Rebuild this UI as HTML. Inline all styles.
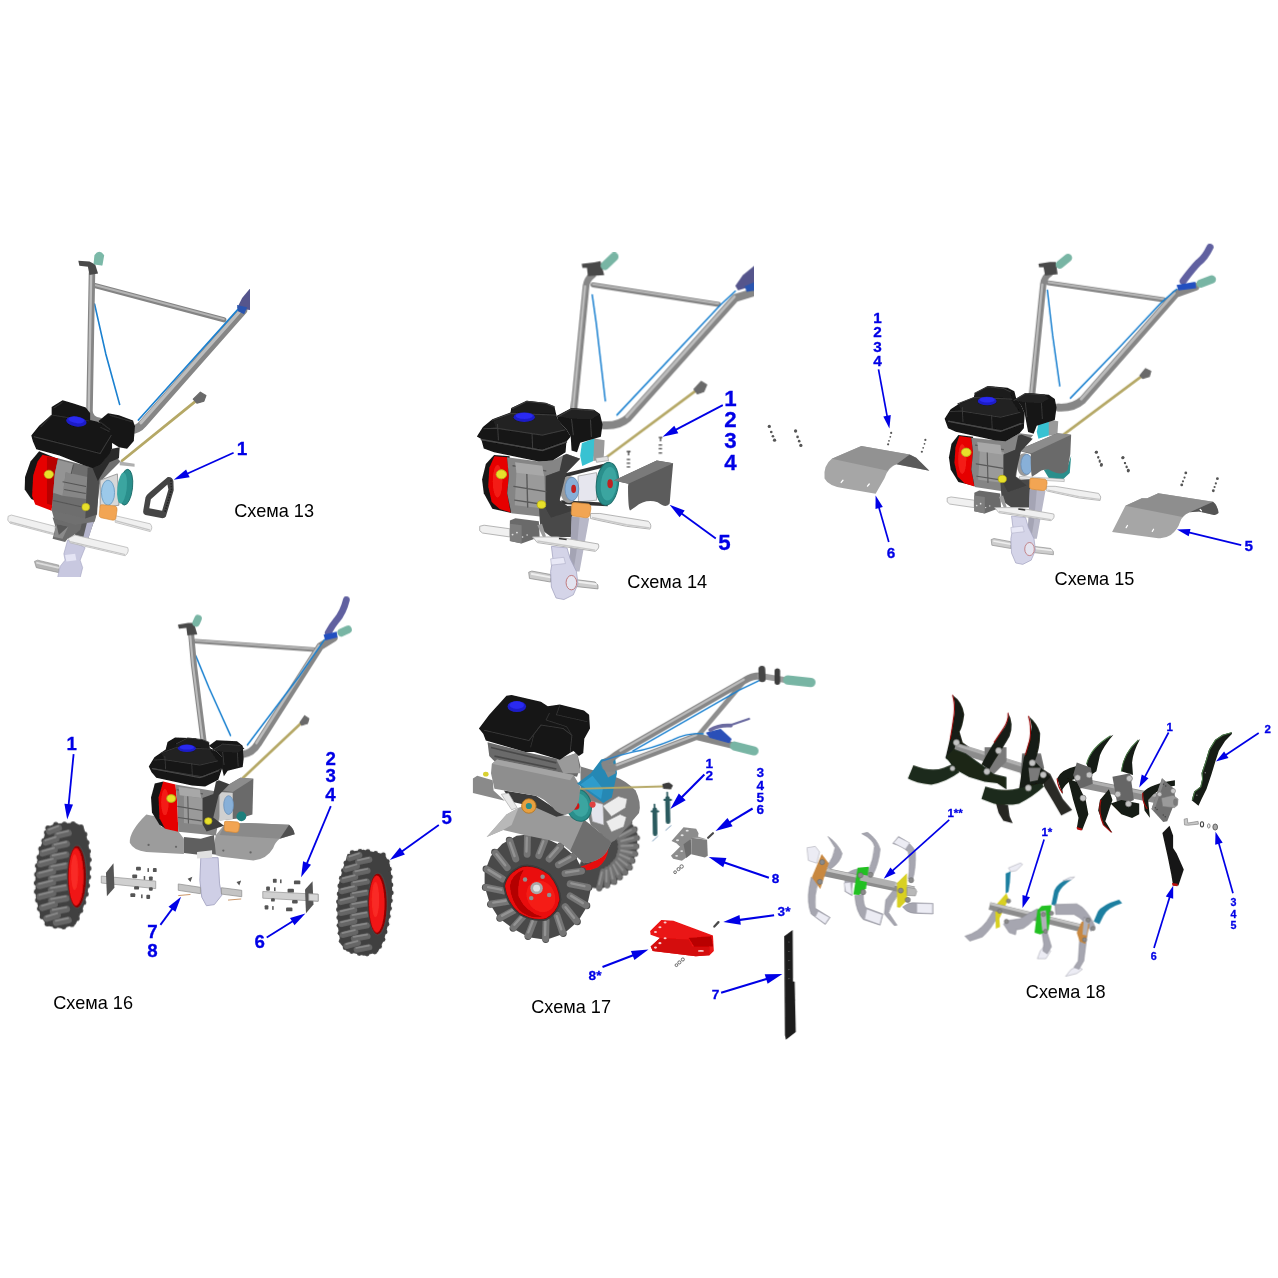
<!DOCTYPE html>
<html lang="ru"><head><meta charset="utf-8"><title>Схемы 13–18</title>
<style>
html,body{margin:0;padding:0;background:#fff;}
body{width:1278px;height:1278px;overflow:hidden;}
svg{display:block;}
.cap{font-family:"Liberation Sans",sans-serif;fill:#000;}
.num{font-family:"Liberation Sans",sans-serif;font-weight:bold;fill:#0404e6;stroke:#0404e6;stroke-width:0.3px;}
.ar{stroke:#0404e6;fill:none;}
.ah{fill:#0404e6;stroke:none;}
</style></head>
<body>
<svg width="1278" height="1278" viewBox="0 0 1278 1278">
<defs>
<filter id="b1" filterUnits="userSpaceOnUse" x="0" y="0" width="1278" height="1278"><feGaussianBlur stdDeviation="0.6"/></filter>
<filter id="b2" filterUnits="userSpaceOnUse" x="0" y="0" width="1278" height="1278"><feGaussianBlur stdDeviation="0.35"/></filter>
</defs>
<rect width="1278" height="1278" fill="#fff"/>
<g filter="url(#b1)">
<!-- ===== Схема 13 : handles (view 0,240,260,500) ===== -->
<g id="d13">
<svg x="0" y="0" width="250" height="577" viewBox="0 0 250 577" overflow="hidden">
<g transform="translate(0 240) scale(0.203443)" stroke-linecap="round" stroke-linejoin="round" fill="none">
  <path d="M465 315 L520 560 L588 808" stroke="#1a80d0" stroke-width="8"/>
  <path d="M470 225 L1100 392" stroke="#848484" stroke-width="26"/>
  <path d="M470 222 L1100 389" stroke="#b4b4b4" stroke-width="10"/>
  <path d="M452 165 L440 840 Q440 880 490 890" stroke="#868686" stroke-width="32"/>
  <path d="M448 165 L436 840" stroke="#bdbdbd" stroke-width="12"/>
  <path d="M1195 345 L700 905 Q680 930 640 935" stroke="#868686" stroke-width="42"/>
  <path d="M1188 340 L693 898" stroke="#bcbcbc" stroke-width="16"/>
  <path d="M1175 335 L680 885" stroke="#1a80d0" stroke-width="8"/>
  <path d="M600 1085 L965 790" stroke="#b5a866" stroke-width="14"/>
  <path d="M950 782 L985 748 L1012 765 L1002 792 L968 802 Z" fill="#6a6a6a" stroke="#6a6a6a" stroke-width="6"/>
  <path d="M1240 225 L1240 345 L1165 335 L1190 285 Z" fill="#55558c" stroke="none"/>
  <path d="M1165 320 L1215 330 L1200 365 L1170 350 Z" fill="#2a55b0" stroke="none"/>
  <path d="M385 102 L440 106 L468 120 L482 165 L440 172 L432 132 L390 126 Z" fill="#4a4a4a" stroke="none"/>
  <path d="M468 76 Q488 48 508 76 L500 122 L464 116 Z" fill="#7bb9a8" stroke="#7bb9a8" stroke-width="8"/>
</g>
</svg>
</g>

<!-- ===== Схема 13 : engine (view 0,380,200,580) ===== -->
<svg x="0" y="0" width="250" height="577" viewBox="0 0 250 577" overflow="hidden">
<g transform="translate(0 380) scale(0.156495)" stroke-linejoin="round">
  </g>
<g transform="translate(0 480) scale(0.125196)" stroke-linejoin="round">
  <!-- bars / bracket / gearbox (view 0,480,160,580) -->
  <path d="M920 285 L1200 350 Q1225 380 1200 412 L920 338 Z" fill="#f0f0f0" stroke="#b4b4b4" stroke-width="6"/>
  <path d="M920 325 L1200 400" stroke="#c4c4c4" stroke-width="10" fill="none"/>
  <path d="M65 290 L90 280 L440 370 L440 440 L80 345 L62 320 Z" fill="#f0f0f0" stroke="#b4b4b4" stroke-width="6"/>
  <path d="M80 335 L440 430" stroke="#c4c4c4" stroke-width="10" fill="none"/>
  <path d="M275 650 L300 640 L470 680 L470 740 L290 700 Z" fill="#b4b4b4" stroke="#8a8a8a" stroke-width="5"/>
  <path d="M290 660 L470 702" stroke="#dcdcdc" stroke-width="14" fill="none"/>
  <path d="M540 480 L640 520 L680 540 L640 640 L660 700 L640 780 L460 780 L480 690 L520 640 L510 590 Z" fill="#c8c8e0" stroke="#a4a4c0" stroke-width="5"/>
  <path d="M520 600 L600 590 L610 640 L530 650 Z" fill="#e4e4f4"/>
  <path d="M560 330 L740 280 L762 300 L720 420 L690 520 L640 520 L600 440 Z" fill="#5a5a5a"/>
  <path d="M700 320 L760 296 L722 420 L688 520 L650 520 Z" fill="#b4b4cc"/>
  <path d="M545 465 L600 440 L1020 540 Q1035 575 1000 605 L560 502 Z" fill="#f0f0f0" stroke="#b4b4b4" stroke-width="6"/>
  <path d="M560 492 L1000 595" stroke="#c4c4c4" stroke-width="10" fill="none"/>
  <path d="M420 300 L560 330 L660 320 L640 400 L590 440 L540 470 L520 496 L420 470 L445 380 Z" fill="#6c6c6c"/>
  <path d="M450 352 L545 372 L500 470 L430 455 Z" fill="#8a8a8a"/>
  <path d="M450 352 L545 372 L470 440 Z" fill="#585858"/>
</g>
<g transform="translate(0 380) scale(0.156495)" stroke-linejoin="round">
  <path d="M330 830 L540 880 L620 850 L605 905 L480 925 L345 885 Z" fill="#707070"/>
  <!-- recoil housing -->
  <path d="M250 455 L195 520 L160 620 L158 700 L200 760 L330 820 L360 500 Z" fill="#161616"/>
  <!-- red cover -->
  <path d="M272 478 L372 502 L350 600 L330 835 L225 795 L205 740 L212 610 L240 520 Z" fill="#e60000"/>
  <path d="M300 490 L372 502 L350 600 L335 800 L300 790 Z" fill="#b80000"/>
  <!-- block -->
  <path d="M370 500 L600 560 L720 470 L770 520 L640 650 L615 860 L540 885 L330 835 L350 600 Z" fill="#6e6e6e"/>
  <path d="M420 590 L560 620 L550 760 L400 740 Z" fill="#868686"/>
  <path d="M370 510 L470 535 L460 600 L420 590 L400 740 L340 720 L350 600 Z" fill="#949494"/>
  <path d="M560 560 L640 540 L620 860 L545 885 Z" fill="#505050"/>
  <path d="M590 560 L645 540 L716 440 L765 430 L760 500 L700 525 L625 645 Z" fill="#2c2c2c"/>
  <path d="M400 650 L550 680 M410 700 L548 725 M470 540 L455 600 M340 770 L540 815" stroke="#555" stroke-width="7" fill="none"/>
  <!-- pulleys -->
  <path d="M640 640 L750 600 L760 800 L640 820 Z" fill="#d8d8d8" stroke="#888" stroke-width="5"/>
  <ellipse cx="690" cy="720" rx="42" ry="80" fill="#9cc9ea" stroke="#6f9fc4" stroke-width="6"/>
  <ellipse cx="805" cy="685" rx="42" ry="115" fill="#2b8f8c" stroke="#1f6f6c" stroke-width="6" transform="rotate(6 805 685)"/>
  <ellipse cx="780" cy="690" rx="30" ry="100" fill="#3aa5a0" transform="rotate(6 780 690)"/>
  <path d="M765 520 L860 535 L860 555 L765 545 Z" fill="#b0b0b0"/>
  <!-- orange roller -->
  <path d="M640 805 Q640 795 655 797 L735 805 Q750 810 748 830 L740 885 Q735 900 715 895 L645 880 Q632 875 634 860 Z" fill="#f2a552" stroke="#d48a3a" stroke-width="4"/>
  <!-- yellow bolts -->
  <ellipse cx="312" cy="603" rx="30" ry="27" fill="#e8e02c" stroke="#b0a818" stroke-width="4"/>
  <ellipse cx="548" cy="812" rx="25" ry="24" fill="#e8e02c" stroke="#b0a818" stroke-width="4"/>
  <!-- air filter -->
  <path d="M630 262 L690 212 L760 225 L850 258 L862 295 L855 390 L812 440 L760 430 L712 400 Z" fill="#141414"/>
  <!-- tank -->
  <path d="M200 355 L250 292 L330 222 L330 172 L400 130 L470 150 L548 176 L576 212 L576 256 L622 266 L700 310 L716 348 L716 440 L700 472 L645 540 L592 562 L540 546 L380 482 L232 442 L210 392 Z" fill="#121212"/>
  <path d="M215 362 L640 470 L712 352" fill="none" stroke="#3a3a3a" stroke-width="7"/>
  <path d="M335 225 L570 262 M260 300 L330 226 M340 180 L400 142 M705 318 L640 268 M700 225 L845 268 M640 300 L700 330" fill="none" stroke="#2e2e2e" stroke-width="8"/>
  <ellipse cx="488" cy="265" rx="66" ry="32" fill="#1e1ec8" transform="rotate(8 488 265)"/>
  <ellipse cx="488" cy="255" rx="52" ry="20" fill="#2a2af0" transform="rotate(8 488 255)"/>
  <!-- belt (part 1) -->
  <path fill-rule="evenodd" d="M1072 620 Q1100 616 1108 645 L1110 705 L1060 872 Q1050 886 1030 882 L930 862 Q910 856 916 830 L930 750 Q936 733 953 720 Z M1070 668 L1076 700 L1036 836 L954 820 L964 762 Z" fill="#444"/>
  <path d="M1092 640 L1096 700 L1052 850" stroke="#222" stroke-width="10" fill="none" stroke-dasharray="10 8"/>
</g>
</svg>

<!-- ===== Схема 14 : handles (view 540,230,780,470) ===== -->
<svg x="440" y="0" width="314" height="640" viewBox="440 0 314 640" overflow="hidden">
<g transform="translate(540 230) scale(0.187793)" stroke-linecap="round" stroke-linejoin="round" fill="none">
  <path d="M278 345 L300 500 L348 910" stroke="#1a80d0" stroke-width="8"/>
  <path d="M282 292 L950 396" stroke="#848484" stroke-width="26"/>
  <path d="M282 289 L950 392" stroke="#b8b8b8" stroke-width="10"/>
  <path d="M280 240 Q250 260 245 300 L180 960" stroke="#868686" stroke-width="36"/>
  <path d="M240 300 L176 950" stroke="#bcbcbc" stroke-width="13"/>
  <path d="M1160 325 L1040 362 L470 1000 Q420 1045 340 1040" stroke="#868686" stroke-width="42"/>
  <path d="M1035 355 L462 995" stroke="#bcbcbc" stroke-width="15"/>
  <path d="M1040 325 L960 400 L410 985" stroke="#1a80d0" stroke-width="8"/>
  <path d="M360 1205 L835 852" stroke="#b5a866" stroke-width="14"/>
  <path d="M820 848 L858 806 L888 824 L872 860 L838 872 Z" fill="#6a6a6a" stroke="#6a6a6a" stroke-width="6"/>
  <path d="M1160 175 L1160 290 L1055 322 L1040 298 L1080 240 Z" fill="#55558c" stroke="none"/>
  <path d="M1090 300 L1160 270 L1160 320 L1100 330 Z" fill="#2a55b0" stroke="none"/>
  <path d="M222 180 L290 172 L322 165 L342 240 L255 246 L250 202 L226 202 Z" fill="#4a4a4a" stroke="none"/>
  <path d="M345 190 L395 142" stroke="#78b5a4" stroke-width="46"/>
  <!-- tiny bolts -->
  <g stroke="#444" stroke-width="7" stroke-linecap="butt">
    <path d="M632 1105 L652 1105 M642 1105 L642 1125 M632 1145 L650 1145 M632 1165 L650 1165 M632 1187 L650 1187"/>
    <path d="M462 1180 L482 1180 M472 1180 L472 1200 M462 1222 L480 1222 M462 1242 L480 1242 M462 1262 L480 1262"/>
  </g>
</g>
</svg>

<!-- ===== Схема 14 : engine (view 470,390,690,610) ===== -->
<g transform="translate(470 390) scale(0.172144)" stroke-linejoin="round">
  <!-- recoil -->
  <path d="M140 378 L92 430 L70 520 L80 600 L130 690 L240 715 L230 385 Z" fill="#161616"/>
  <!-- red -->
  <path d="M142 385 L216 390 L226 500 L216 600 L236 712 L172 692 L126 650 L106 560 L112 452 Z" fill="#e60000"/>
  <!-- block -->
  <path d="M215 390 L400 415 L480 410 L560 370 L640 400 L560 480 L520 640 L600 700 L470 742 L240 716 L216 600 L226 500 Z" fill="#858585"/>
  <path d="M270 470 L430 490 L440 690 L260 670 Z" fill="#9a9a9a"/>
  <path d="M440 500 L520 470 L520 640 L470 742 L440 690 Z" fill="#5a5a5a"/>
  <!-- cyan bracket -->
  <path d="M650 310 L722 280 L732 300 L716 412 L652 442 L640 380 Z" fill="#38c2d2"/>
  <path d="M722 282 L782 292 L776 402 L716 412 Z" fill="#9a9a9a"/>
  <!-- pulleys -->
  <path d="M628 500 L735 480 L735 640 L630 650 Z" fill="#e6e6ee" stroke="#aaa" stroke-width="5"/>
  <path d="M530 490 L790 425 L800 445 L540 510 Z" fill="#333"/>
  <path d="M530 640 L800 655 L800 675 L530 662 Z" fill="#333"/>
  <ellipse cx="575" cy="578" rx="52" ry="78" fill="#9a9a9a"/>
  <ellipse cx="592" cy="575" rx="40" ry="68" fill="#88b0d8" stroke="#6a8fb8" stroke-width="5"/>
  <ellipse cx="602" cy="575" rx="14" ry="24" fill="#c02020"/>
  <ellipse cx="798" cy="545" rx="64" ry="125" fill="#2b8f8c" stroke="#1f6f6c" stroke-width="6" transform="rotate(6 798 545)"/>
  <ellipse cx="806" cy="545" rx="46" ry="98" fill="#3aa5a0" transform="rotate(6 806 545)"/>
  <ellipse cx="814" cy="545" rx="16" ry="26" fill="#c02020"/>
  <path d="M730 395 L800 385 L805 410 L735 420 Z" fill="#e0e0e0" stroke="#999" stroke-width="4"/>
  <!-- orange -->
  <!-- yellow bolts -->
  <ellipse cx="182" cy="490" rx="30" ry="26" fill="#e8e02c" stroke="#b0a818" stroke-width="4"/>
  <ellipse cx="415" cy="666" rx="25" ry="22" fill="#e8e02c" stroke="#b0a818" stroke-width="4"/>
  <!-- air filter -->
  <path d="M505 150 L590 105 L720 115 L755 140 L770 200 L760 272 L640 306 L622 362 L590 352 L585 270 L560 230 L510 176 Z" fill="#141414"/>
  <!-- tank -->
  <path d="M40 270 L75 215 L130 170 L235 130 L240 105 L330 62 L440 75 L490 95 L500 140 L510 175 L560 230 L585 270 L560 300 L555 362 L480 410 L400 416 L140 362 L80 340 L65 285 Z" fill="#121212"/>
  <path d="M70 290 L420 350 L560 300" fill="none" stroke="#333" stroke-width="6"/>
  <ellipse cx="315" cy="158" rx="62" ry="28" fill="#1e1ec8"/>
  <ellipse cx="315" cy="150" rx="50" ry="18" fill="#2a2af0"/>
  <!-- shield part 5 -->
  <path d="M836 525 L1085 410 L1180 425 L1168 560 L1160 660 Q1140 690 1090 652 Q1020 630 960 680 L930 700 Q918 690 918 560 L920 545 Z" fill="#5c5c5c"/>
  <path d="M836 525 L1085 410 L1180 425 L920 545 Z" fill="#7a7a7a"/>
</g>

<!-- ===== Схема 15 : handles (view 1000,230,1240,470) ===== -->
<g transform="translate(1000 230) scale(0.187793)" stroke-linecap="round" stroke-linejoin="round" fill="none">
  <path d="M252 320 L280 560 L318 830" stroke="#1a80d0" stroke-width="8"/>
  <path d="M258 281 L870 371" stroke="#848484" stroke-width="26"/>
  <path d="M258 278 L870 367" stroke="#b8b8b8" stroke-width="10"/>
  <path d="M265 232 Q235 250 230 290 L170 880" stroke="#868686" stroke-width="34"/>
  <path d="M225 290 L166 870" stroke="#bcbcbc" stroke-width="12"/>
  <path d="M1040 302 L935 340 L440 905 Q390 950 310 945" stroke="#868686" stroke-width="42"/>
  <path d="M928 335 L432 900" stroke="#bcbcbc" stroke-width="15"/>
  <path d="M940 315 L860 385 L640 620 L375 895" stroke="#1a80d0" stroke-width="8"/>
  <path d="M340 1088 L755 778" stroke="#b5a866" stroke-width="14"/>
  <path d="M745 775 L775 738 L803 752 L795 780 L760 790 Z" fill="#6a6a6a" stroke="#6a6a6a" stroke-width="6"/>
  <path d="M1118 92 Q1090 150 1058 172 Q1030 200 975 272" stroke="#6060a0" stroke-width="38"/>
  <path d="M940 292 L1040 275 L1045 310 L950 322 Z" fill="#2450c0" stroke="none"/>
  <path d="M1068 285 L1128 263" stroke="#78b5a4" stroke-width="44"/>
  <path d="M205 180 L265 170 L297 170 L307 236 L240 242 L232 198 L208 198 Z" fill="#4a4a4a" stroke="none"/>
  <path d="M318 184 L362 148" stroke="#78b5a4" stroke-width="44"/>
</g>

<!-- ===== Схема 15 : engine (view 930,380,1150,600) ===== -->
<g transform="translate(930 380) scale(0.172144)" stroke-linejoin="round">
  <path d="M165 320 L125 370 L110 450 L120 520 L165 592 L260 616 L250 330 Z" fill="#161616"/>
  <path d="M170 325 L240 335 L250 420 L240 520 L258 618 L200 600 L160 560 L142 480 L148 390 Z" fill="#e60000"/>
  <path d="M240 335 L380 350 L440 355 L520 310 L600 320 L520 410 L500 560 L560 600 L460 652 L260 622 L240 520 L250 420 Z" fill="#858585"/>
  <path d="M290 400 L430 420 L440 600 L280 580 Z" fill="#9a9a9a"/>
  <path d="M440 430 L510 400 L500 560 L460 652 L440 600 Z" fill="#5a5a5a"/>
  <path d="M630 255 L690 230 L702 250 L690 322 L630 342 L620 300 Z" fill="#38c2d2"/>
  <path d="M690 230 L745 240 L740 320 L690 322 Z" fill="#9a9a9a"/>
  <ellipse cx="548" cy="492" rx="44" ry="66" fill="#9a9a9a"/>
  <ellipse cx="562" cy="490" rx="34" ry="58" fill="#88b0d8" stroke="#6a8fb8" stroke-width="5"/>
  <path d="M660 520 L800 500 L820 440 L812 540 L770 580 L690 570 Z" fill="#2b8f8c"/>
  <!-- mounted cover -->
  <path d="M505 410 L740 310 L820 318 L815 430 L800 520 Q770 565 690 520 Q650 515 620 545 L592 562 Q585 540 585 430 Z" fill="#6a6a6a"/>
  <path d="M505 410 L740 310 L820 318 L590 425 Z" fill="#8c8c8c"/>
  <path d="M520 560 L780 575 L780 590 L520 575 Z" fill="#e8e8e8" stroke="#999" stroke-width="3"/>
  <ellipse cx="210" cy="420" rx="28" ry="24" fill="#e8e02c" stroke="#b0a818" stroke-width="4"/>
  <ellipse cx="420" cy="575" rx="24" ry="21" fill="#e8e02c" stroke="#b0a818" stroke-width="4"/>
  <path d="M500 110 L575 75 L690 85 L725 110 L735 160 L725 232 L620 266 L602 312 L570 302 L550 195 L530 150 Z" fill="#141414"/>
  <path d="M85 225 L120 170 L180 130 L255 100 L265 75 L340 35 L450 45 L490 65 L500 105 L530 150 L550 195 L545 280 L520 310 L440 356 L380 351 L150 300 L105 280 Z" fill="#121212"/>
  <path d="M110 240 L420 295 L545 250" fill="none" stroke="#333" stroke-width="6"/>
  <ellipse cx="332" cy="122" rx="55" ry="25" fill="#1e1ec8"/>
  <ellipse cx="332" cy="115" rx="44" ry="16" fill="#2a2af0"/>
  <!-- small bolts -->
  <g fill="#555">
    <circle cx="966" cy="420" r="9"/><circle cx="978" cy="448" r="6"/><circle cx="986" cy="468" r="6"/><circle cx="996" cy="490" r="8"/>
    <circle cx="1120" cy="452" r="9"/><circle cx="1132" cy="482" r="6"/><circle cx="1142" cy="502" r="6"/><circle cx="1152" cy="524" r="8"/>
  </g>
</g>
<!-- shield 6 (view 800,290,960,570) -->
<g transform="translate(800 290) scale(0.219178)">
  <path d="M145 770 L280 712 L500 750 L530 765 L590 825 L440 795 Q400 810 385 860 L345 930 L200 905 Q130 895 112 860 Q105 800 145 770 Z" fill="#a6a6a6"/>
  <path d="M145 770 L280 712 L500 750 L440 795 Q415 800 400 825 Z" fill="#929292"/>
  <path d="M440 795 L500 750 L530 765 L590 825 Z" fill="#5a5a5a"/>
  <g stroke="#fff" stroke-width="6" stroke-linecap="round"><path d="M188 878 L196 868 M308 895 L316 885"/></g>
  <g fill="#555">
    <circle cx="416" cy="652" r="5"/><circle cx="412" cy="670" r="4"/><circle cx="406" cy="688" r="4"/><circle cx="402" cy="704" r="5"/>
    <circle cx="572" cy="684" r="5"/><circle cx="568" cy="702" r="4"/><circle cx="562" cy="720" r="4"/><circle cx="556" cy="738" r="5"/>
  </g>
</g>
<!-- shield 5 (view 1080,420,1278,620) -->
<g transform="translate(1080 420) scale(0.156495)">
  <path d="M290 548 L395 500 L430 500 L500 468 L850 522 Q880 545 885 595 Q870 610 850 605 L760 585 L700 590 Q655 610 640 650 Q625 700 580 735 Q540 760 500 755 L205 715 Z" fill="#a6a6a6"/>
  <path d="M290 548 L395 500 L430 500 L500 468 L850 522 L700 590 Q670 600 655 620 Z" fill="#8e8e8e"/>
  <path d="M700 590 L850 522 Q880 545 885 595 Q870 610 850 605 L760 585 Z" fill="#555"/>
  <g stroke="#fff" stroke-width="8" stroke-linecap="round"><path d="M295 688 L303 674 M462 712 L470 698 M768 572 L776 580"/></g>
  <g fill="#555">
    <circle cx="105" cy="205" r="9"/><circle cx="116" cy="240" r="7"/><circle cx="126" cy="266" r="7"/><circle cx="136" cy="290" r="9"/>
    <circle cx="275" cy="240" r="9"/><circle cx="288" cy="276" r="7"/><circle cx="298" cy="302" r="7"/><circle cx="308" cy="326" r="9"/>
    <circle cx="676" cy="338" r="9"/><circle cx="668" cy="368" r="7"/><circle cx="658" cy="392" r="7"/><circle cx="650" cy="415" r="9"/>
    <circle cx="878" cy="375" r="9"/><circle cx="868" cy="405" r="7"/><circle cx="860" cy="428" r="7"/><circle cx="852" cy="452" r="9"/>
  </g>
</g>
<!-- bolts between 14 & 15 (view 440,220,860,640 s=0.328638) -->
<g transform="translate(440 220) scale(0.328638)" fill="#555">
  <circle cx="1002" cy="628" r="5"/><circle cx="1008" cy="645" r="4"/><circle cx="1013" cy="658" r="4"/><circle cx="1018" cy="670" r="5"/>
  <circle cx="1082" cy="642" r="5"/><circle cx="1088" cy="660" r="4"/><circle cx="1093" cy="673" r="4"/><circle cx="1098" cy="686" r="5"/>
</g>

<!-- lower parts of 14 and 15 (view 470,490,670,610) -->
<g transform="translate(470 490) scale(0.156495)" stroke-linejoin="round">
  <path d="M770 150 L830 150 L1140 200 Q1165 225 1150 250 L1000 232 L830 196 L770 182 Z" fill="#f0f0f0" stroke="#b0b0b0" stroke-width="6"/>
  <path d="M780 176 L1000 222 L1148 242" stroke="#c8c8c8" stroke-width="9" fill="none"/>
  <path d="M440 110 L650 100 L660 300 L520 300 L450 250 Z" fill="#4a4a4a"/>
  <path d="M650 170 L762 180 L722 400 L700 520 L620 520 L640 400 Z" fill="#b8b8c8"/>
  <path d="M650 170 L700 175 L680 400 L660 520 L620 520 L640 400 Z" fill="#a4a4b4"/>
  <path d="M62 232 L90 225 L255 248 L255 300 L80 275 L62 260 Z" fill="#f0f0f0" stroke="#b0b0b0" stroke-width="6"/>
  <path d="M255 195 L290 180 L440 200 L445 300 L330 342 L255 326 Z" fill="#6a6a6a"/>
  <path d="M255 215 L330 225 L330 342 L255 326 Z" fill="#7e7e7e"/>
  <g fill="#ddd"><circle cx="272" cy="285" r="6"/><circle cx="300" cy="272" r="6"/><circle cx="336" cy="300" r="5"/><circle cx="365" cy="288" r="5"/></g>
  <path d="M430 225 L460 215 L485 295 L470 310 Z" fill="#9a9a9a"/>
  <path d="M375 525 L395 518 L515 540 L515 588 L380 565 Z" fill="#cccccc" stroke="#909090" stroke-width="5"/>
  <path d="M390 535 L515 558" stroke="#eeeeee" stroke-width="12" fill="none"/>
  <path d="M670 572 L800 588 Q825 605 818 632 L670 616 Z" fill="#cccccc" stroke="#909090" stroke-width="5"/>
  <path d="M675 585 L810 602" stroke="#eeeeee" stroke-width="12" fill="none"/>
  <path d="M520 360 L620 370 L640 440 L680 520 L690 600 L660 670 L600 700 L550 690 L520 620 L515 520 L530 440 Z" fill="#d4d4e8" stroke="#a4a4c0" stroke-width="5"/>
  <path d="M515 440 L600 430 L610 470 L520 480 Z" fill="#e8e8f6" stroke="#b0b0c8" stroke-width="4"/>
  <ellipse cx="648" cy="592" rx="34" ry="46" fill="#e4e4f0" stroke="#b86060" stroke-width="5"/>
  <path d="M400 300 L560 300 L820 345 Q832 372 800 392 L430 336 Z" fill="#f0f0f0" stroke="#b0b0b0" stroke-width="6"/>
  <path d="M430 326 L800 384" stroke="#c8c8c8" stroke-width="9" fill="none"/>
  <rect x="568" y="308" width="50" height="10" fill="#333" transform="rotate(8 590 312)"/>
</g>
<g transform="matrix(0.898 0 0 0.907 516.4 20.6) translate(470 490) scale(0.156495)" stroke-linejoin="round">
  <path d="M770 150 L830 150 L1140 200 Q1165 225 1150 250 L1000 232 L830 196 L770 182 Z" fill="#f0f0f0" stroke="#b0b0b0" stroke-width="6"/>
  <path d="M780 176 L1000 222 L1148 242" stroke="#c8c8c8" stroke-width="9" fill="none"/>
  <path d="M440 110 L650 100 L660 300 L520 300 L450 250 Z" fill="#4a4a4a"/>
  <path d="M650 170 L762 180 L722 400 L700 520 L620 520 L640 400 Z" fill="#b8b8c8"/>
  <path d="M650 170 L700 175 L680 400 L660 520 L620 520 L640 400 Z" fill="#a4a4b4"/>
  <path d="M62 232 L90 225 L255 248 L255 300 L80 275 L62 260 Z" fill="#f0f0f0" stroke="#b0b0b0" stroke-width="6"/>
  <path d="M255 195 L290 180 L440 200 L445 300 L330 342 L255 326 Z" fill="#6a6a6a"/>
  <path d="M255 215 L330 225 L330 342 L255 326 Z" fill="#7e7e7e"/>
  <g fill="#ddd"><circle cx="272" cy="285" r="6"/><circle cx="300" cy="272" r="6"/><circle cx="336" cy="300" r="5"/><circle cx="365" cy="288" r="5"/></g>
  <path d="M430 225 L460 215 L485 295 L470 310 Z" fill="#9a9a9a"/>
  <path d="M375 525 L395 518 L515 540 L515 588 L380 565 Z" fill="#cccccc" stroke="#909090" stroke-width="5"/>
  <path d="M390 535 L515 558" stroke="#eeeeee" stroke-width="12" fill="none"/>
  <path d="M670 572 L800 588 Q825 605 818 632 L670 616 Z" fill="#cccccc" stroke="#909090" stroke-width="5"/>
  <path d="M675 585 L810 602" stroke="#eeeeee" stroke-width="12" fill="none"/>
  <path d="M520 360 L620 370 L640 440 L680 520 L690 600 L660 670 L600 700 L550 690 L520 620 L515 520 L530 440 Z" fill="#d4d4e8" stroke="#a4a4c0" stroke-width="5"/>
  <path d="M515 440 L600 430 L610 470 L520 480 Z" fill="#e8e8f6" stroke="#b0b0c8" stroke-width="4"/>
  <ellipse cx="648" cy="592" rx="34" ry="46" fill="#e4e4f0" stroke="#b86060" stroke-width="5"/>
  <path d="M400 300 L560 300 L820 345 Q832 372 800 392 L430 336 Z" fill="#f0f0f0" stroke="#b0b0b0" stroke-width="6"/>
  <path d="M430 326 L800 384" stroke="#c8c8c8" stroke-width="9" fill="none"/>
  <rect x="568" y="308" width="50" height="10" fill="#333" transform="rotate(8 590 312)"/>
</g>

<!-- ===== Схема 16 : handles + engine top (view 130,590,370,830) ===== -->
<g transform="translate(130 590) scale(0.187793)" stroke-linecap="round" stroke-linejoin="round" fill="none">
  <path d="M350 350 L420 520 L535 775" stroke="#1a80d0" stroke-width="8"/>
  <path d="M348 272 L985 318" stroke="#848484" stroke-width="24"/>
  <path d="M348 269 L985 314" stroke="#b8b8b8" stroke-width="9"/>
  <path d="M325 232 L340 400 L395 835" stroke="#868686" stroke-width="32"/>
  <path d="M320 240 L335 400 L390 830" stroke="#bcbcbc" stroke-width="11"/>
  <path d="M1085 255 L1012 300 L680 820 Q650 870 598 875" stroke="#868686" stroke-width="40"/>
  <path d="M1005 296 L673 815" stroke="#bcbcbc" stroke-width="14"/>
  <path d="M1035 265 L900 460 L625 825" stroke="#1a80d0" stroke-width="8"/>
  <path d="M600 1002 L912 708" stroke="#b5a866" stroke-width="14"/>
  <path d="M905 705 L930 670 L952 685 L945 710 L915 720 Z" fill="#6a6a6a" stroke="#6a6a6a" stroke-width="6"/>
  <path d="M1152 52 Q1135 120 1100 160 Q1075 190 1055 228" stroke="#6060a0" stroke-width="36"/>
  <path d="M1030 238 L1100 222 L1105 252 L1040 268 Z" fill="#2450c0" stroke="none"/>
  <path d="M1125 226 L1160 210" stroke="#78b5a4" stroke-width="42"/>
  <path d="M255 185 L310 175 L340 175 L358 236 L305 242 L300 202 L260 206 Z" fill="#4a4a4a" stroke="none"/>
  <path d="M352 175 L362 152" stroke="#78b5a4" stroke-width="40"/>
</g>

<!-- ===== Схема 16 : engine + fenders + hubs (view 90,760,330,1000) ===== -->
<g transform="translate(90 760) scale(0.187793)" stroke-linejoin="round">
  <!-- fenders -->
  <path d="M300 290 L345 300 L380 355 L470 380 L500 420 L500 500 L300 490 Q230 480 212 440 Q208 380 300 290 Z" fill="#9c9c9c"/>
  <path d="M650 500 L670 400 L720 340 L840 335 L1060 345 Q1085 365 1090 395 L1010 420 Q985 440 975 470 Q940 530 870 535 L700 515 Z" fill="#9c9c9c"/>
  <path d="M720 340 L840 335 L1060 345 L1010 420 L690 400 Z" fill="#8a8a8a"/>
  <path d="M1010 420 L1060 345 Q1085 365 1090 395 Z" fill="#505050"/>
  <g fill="#666"><circle cx="312" cy="452" r="6"/><circle cx="458" cy="462" r="6"/><circle cx="710" cy="482" r="6"/><circle cx="855" cy="492" r="6"/></g>
  <!-- gearbox -->
  <path d="M590 520 L682 520 L690 660 L702 720 L662 770 L620 776 L595 730 L585 640 Z" fill="#cfcfe6" stroke="#a8a8c4" stroke-width="5"/>
  <path d="M470 660 L588 678 L588 712 L470 694 Z" fill="#c4c4c4" stroke="#909090" stroke-width="4"/>
  <path d="M700 680 L808 694 L808 728 L700 714 Z" fill="#c4c4c4" stroke="#909090" stroke-width="4"/>
  <path d="M520 632 L545 622 L535 650 Z M780 650 L805 642 L795 668 Z" fill="#555"/>
  <path d="M470 722 L535 716 M735 746 L805 740" stroke="#c89060" stroke-width="5" fill="none"/>
  <path d="M500 410 L590 420 L660 400 L670 500 L580 505 L500 495 Z" fill="#5e5e5e"/>
  <path d="M570 490 L650 480 L650 520 L570 525 Z" fill="#e0e0e0"/>
  <!-- engine lower -->
  <path d="M345 125 L325 200 L330 280 L370 345 L400 365 L390 115 Z" fill="#161616"/>
  <path d="M390 115 L455 130 L465 230 L470 382 L400 366 L370 310 L365 200 Z" fill="#e60000"/>
  <path d="M455 130 L690 170 L690 300 L670 402 L470 382 L465 230 Z" fill="#858585"/>
  <path d="M500 190 L640 210 L640 350 L500 335 Z" fill="#9a9a9a"/>
  <path d="M690 160 L800 95 L870 100 L865 290 L800 310 L690 322 Z" fill="#6a6a6a"/>
  <path d="M690 160 L800 95 L870 100 L760 170 Z" fill="#8c8c8c"/>
  <path d="M690 170 L760 175 L760 315 L690 322 Z" fill="#d0d0d0"/>
  <ellipse cx="738" cy="240" rx="26" ry="50" fill="#88b0d8" stroke="#6a8fb8" stroke-width="4"/>
  <circle cx="806" cy="300" r="26" fill="#1f7f7c"/>
  <path d="M716 336 Q714 324 728 326 L785 330 Q798 334 796 350 L792 376 Q788 388 774 386 L724 380 Q712 376 714 364 Z" fill="#f2a552" stroke="#d48a3a" stroke-width="4"/>
  <ellipse cx="432" cy="205" rx="23" ry="20" fill="#e8e02c" stroke="#b0a818" stroke-width="4"/>
  <ellipse cx="630" cy="325" rx="20" ry="18" fill="#e8e02c" stroke="#b0a818" stroke-width="4"/>
  <!-- left hub -->
  <path d="M60 618 L350 645 L350 685 L60 655 Z" fill="#d0d0d0" stroke="#9a9a9a" stroke-width="4"/>
  <path d="M85 600 L125 550 L130 680 L90 726 Z" fill="#555"/>
  <g fill="#555">
    <rect x="245" y="568" width="26" height="20" rx="5"/><rect x="335" y="575" width="20" height="22" rx="5"/><rect x="306" y="576" width="8" height="20"/>
    <rect x="225" y="610" width="26" height="20" rx="5"/><rect x="314" y="620" width="20" height="22" rx="5"/><rect x="286" y="618" width="8" height="20"/>
    <rect x="235" y="672" width="26" height="18" rx="5"/><rect x="314" y="678" width="20" height="18" rx="5"/>
    <rect x="215" y="710" width="26" height="20" rx="5"/><rect x="300" y="718" width="20" height="22" rx="5"/><rect x="272" y="716" width="8" height="20"/>
  </g>
  <!-- right hub -->
  <path d="M920 700 L1215 715 L1215 752 L920 736 Z" fill="#d0d0d0" stroke="#9a9a9a" stroke-width="4"/>
  <path d="M1145 690 L1185 645 L1190 770 L1150 816 Z" fill="#555"/>
  <path d="M1165 712 L1215 715 L1215 752 L1165 748 Z" fill="#d8d8d8" stroke="#9a9a9a" stroke-width="4"/>
  <g fill="#555">
    <rect x="974" y="632" width="20" height="22" rx="5"/><rect x="1012" y="636" width="8" height="20"/><rect x="1086" y="642" width="34" height="20" rx="5"/>
    <rect x="938" y="674" width="20" height="22" rx="5"/><rect x="980" y="678" width="8" height="20"/><rect x="1052" y="686" width="34" height="20" rx="5"/>
    <rect x="964" y="736" width="20" height="18" rx="5"/><rect x="1076" y="746" width="30" height="18" rx="5"/>
    <rect x="930" y="774" width="20" height="22" rx="5"/><rect x="970" y="778" width="8" height="20"/><rect x="1044" y="786" width="34" height="20" rx="5"/>
  </g>
</g>
<!-- engine top (view 130,590,370,830) -->
<g transform="translate(130 590) scale(0.187793)" stroke-linejoin="round">
  <path d="M420 830 L460 800 L570 805 L600 830 L605 900 L600 942 L520 962 L500 992 L490 950 L490 890 L460 860 Z" fill="#141414"/>
  <path d="M100 940 L130 890 L190 850 L200 810 L240 785 L350 790 L380 810 L385 830 L420 840 L460 860 L490 890 L490 950 L470 1010 L400 1046 L330 1041 L140 1000 L115 970 Z" fill="#121212"/>
  <path d="M118 950 L390 995 L488 950" fill="none" stroke="#333" stroke-width="6"/>
  <ellipse cx="303" cy="843" rx="48" ry="20" fill="#1e1ec8"/>
  <ellipse cx="303" cy="837" rx="38" ry="13" fill="#2a2af0"/>
</g>

<!-- wheels d16 (generated) -->
<g transform="translate(0 720) scale(0.187793)">
  <path d="M255 575 L300 556 L400 554 L440 574 L460 640 L474 720 L472 830 L460 920 L436 1000 L398 1084 L330 1104 L254 1090 L220 1040 L196 940 L194 850 L200 770 L217 690 L240 624 Z" fill="#404040" stroke="#404040" stroke-width="12" stroke-linejoin="round"/>
  <g fill="#404040"><circle cx="255" cy="575" r="14"/><circle cx="297" cy="557" r="14"/><circle cx="343" cy="555" r="14"/><circle cx="389" cy="554" r="14"/><circle cx="431" cy="570" r="14"/><circle cx="451" cy="609" r="14"/><circle cx="462" cy="653" r="14"/><circle cx="470" cy="699" r="14"/><circle cx="474" cy="744" r="14"/><circle cx="473" cy="790" r="14"/><circle cx="471" cy="836" r="14"/><circle cx="465" cy="882" r="14"/><circle cx="458" cy="927" r="14"/><circle cx="445" cy="971" r="14"/><circle cx="429" cy="1014" r="14"/><circle cx="410" cy="1056" r="14"/><circle cx="383" cy="1088" r="14"/><circle cx="339" cy="1101" r="14"/><circle cx="294" cy="1097" r="14"/><circle cx="251" cy="1085" r="14"/><circle cx="225" cy="1047" r="14"/><circle cx="211" cy="1004" r="14"/><circle cx="201" cy="959" r="14"/><circle cx="195" cy="914" r="14"/><circle cx="194" cy="868" r="14"/><circle cx="196" cy="822" r="14"/><circle cx="200" cy="776" r="14"/><circle cx="208" cy="731" r="14"/><circle cx="218" cy="686" r="14"/><circle cx="234" cy="643" r="14"/><circle cx="248" cy="599" r="14"/></g>
  <g stroke="#666" stroke-width="36" stroke-linecap="round" fill="none"><path d="M262 593 L312 575"/><path d="M306 615 L364 601"/><path d="M243 651 L298 633"/><path d="M292 673 L355 659"/><path d="M226 709 L289 691"/><path d="M282 731 L352 717"/><path d="M214 767 L283 749"/><path d="M275 789 L351 775"/><path d="M210 825 L281 807"/><path d="M273 847 L350 833"/><path d="M209 883 L281 865"/><path d="M273 905 L351 891"/><path d="M211 941 L282 923"/><path d="M274 963 L352 949"/><path d="M225 999 L290 981"/><path d="M283 1021 L355 1007"/><path d="M248 1057 L306 1039"/><path d="M299 1079 L364 1065"/></g>
  <g stroke="#8a8a8a" stroke-width="10" stroke-linecap="round" fill="none" transform="translate(-2 -10)"><path d="M262 593 L312 575"/><path d="M306 615 L364 601"/><path d="M243 651 L298 633"/><path d="M292 673 L355 659"/><path d="M226 709 L289 691"/><path d="M282 731 L352 717"/><path d="M214 767 L283 749"/><path d="M275 789 L351 775"/><path d="M210 825 L281 807"/><path d="M273 847 L350 833"/><path d="M209 883 L281 865"/><path d="M273 905 L351 891"/><path d="M211 941 L282 923"/><path d="M274 963 L352 949"/><path d="M225 999 L290 981"/><path d="M283 1021 L355 1007"/><path d="M248 1057 L306 1039"/><path d="M299 1079 L364 1065"/></g>
  <ellipse cx="411" cy="835" rx="55" ry="172" fill="#484848"/>
  <ellipse cx="409" cy="835" rx="48" ry="164" fill="#8e0000"/>
  <ellipse cx="405" cy="835" rx="40" ry="154" fill="#f01414"/>
  <ellipse cx="397" cy="810" rx="20" ry="96" fill="#ff3a30" opacity="0.6"/>
</g>
<g transform="translate(240 780) scale(0.172144)">
  <path d="M652 421 L720 411 L836 436 L864 490 L874 560 L879 650 L869 750 L854 840 L830 930 L796 996 L720 1014 L624 990 L590 950 L576 860 L571 720 L581 600 L605 512 L624 455 Z" fill="#404040" stroke="#404040" stroke-width="12" stroke-linejoin="round"/>
  <g fill="#404040"><circle cx="652" cy="421" r="14"/><circle cx="698" cy="414" r="14"/><circle cx="743" cy="416" r="14"/><circle cx="788" cy="426" r="14"/><circle cx="833" cy="435" r="14"/><circle cx="856" cy="474" r="14"/><circle cx="868" cy="517" r="14"/><circle cx="874" cy="563" r="14"/><circle cx="877" cy="609" r="14"/><circle cx="879" cy="655" r="14"/><circle cx="874" cy="701" r="14"/><circle cx="869" cy="746" r="14"/><circle cx="862" cy="792" r="14"/><circle cx="854" cy="837" r="14"/><circle cx="843" cy="882" r="14"/><circle cx="831" cy="926" r="14"/><circle cx="811" cy="967" r="14"/><circle cx="783" cy="999" r="14"/><circle cx="738" cy="1010" r="14"/><circle cx="693" cy="1007" r="14"/><circle cx="649" cy="996" r="14"/><circle cx="611" cy="974" r="14"/><circle cx="588" cy="936" r="14"/><circle cx="581" cy="890" r="14"/><circle cx="575" cy="845" r="14"/><circle cx="574" cy="799" r="14"/><circle cx="572" cy="753" r="14"/><circle cx="572" cy="707" r="14"/><circle cx="576" cy="661" r="14"/><circle cx="580" cy="615" r="14"/><circle cx="589" cy="570" r="14"/><circle cx="601" cy="526" r="14"/><circle cx="615" cy="482" r="14"/><circle cx="635" cy="442" r="14"/></g>
  <g stroke="#666" stroke-width="36" stroke-linecap="round" fill="none"><path d="M637 454 L693 436"/><path d="M687 476 L751 462"/><path d="M616 518 L679 500"/><path d="M672 540 L741 526"/><path d="M599 581 L669 563"/><path d="M661 603 L737 589"/><path d="M591 645 L665 627"/><path d="M657 667 L736 653"/><path d="M586 708 L662 690"/><path d="M654 730 L736 716"/><path d="M587 772 L663 754"/><path d="M655 794 L736 780"/><path d="M589 836 L664 818"/><path d="M656 858 L737 844"/><path d="M597 899 L670 881"/><path d="M662 921 L741 907"/><path d="M619 963 L685 945"/><path d="M678 985 L751 971"/></g>
  <g stroke="#8a8a8a" stroke-width="10" stroke-linecap="round" fill="none" transform="translate(-2 -10)"><path d="M637 454 L693 436"/><path d="M687 476 L751 462"/><path d="M616 518 L679 500"/><path d="M672 540 L741 526"/><path d="M599 581 L669 563"/><path d="M661 603 L737 589"/><path d="M591 645 L665 627"/><path d="M657 667 L736 653"/><path d="M586 708 L662 690"/><path d="M654 730 L736 716"/><path d="M587 772 L663 754"/><path d="M655 794 L736 780"/><path d="M589 836 L664 818"/><path d="M656 858 L737 844"/><path d="M597 899 L670 881"/><path d="M662 921 L741 907"/><path d="M619 963 L685 945"/><path d="M678 985 L751 971"/></g>
  <ellipse cx="801" cy="720" rx="60" ry="184" fill="#484848"/>
  <ellipse cx="799" cy="720" rx="53" ry="176" fill="#8e0000"/>
  <ellipse cx="795" cy="720" rx="45" ry="166" fill="#f01414"/>
  <ellipse cx="787" cy="695" rx="22" ry="103" fill="#ff3a30" opacity="0.6"/>
</g>

<!-- Схема 17 wheels (generated; view 460,800,680,1020) -->
<g transform="translate(460 800) scale(0.172144)" stroke-linejoin="round">
  <path d="M700 380 L760 250 L880 140 L960 110 L1000 150 L1025 200 L1020 300 L980 400 L900 470 L820 510 L750 500 L720 430 Z" fill="#4a4a4a" stroke="#4a4a4a" stroke-width="14" stroke-linejoin="round"/>
  <g fill="#4a4a4a"><circle cx="873" cy="144" r="17"/><circle cx="929" cy="119" r="17"/><circle cx="984" cy="127" r="17"/><circle cx="1015" cy="170" r="17"/><circle cx="1028" cy="220" r="17"/><circle cx="1025" cy="269" r="17"/><circle cx="1018" cy="313" r="17"/><circle cx="1002" cy="353" r="17"/><circle cx="987" cy="392" r="17"/><circle cx="960" cy="422" r="17"/><circle cx="929" cy="449" r="17"/><circle cx="896" cy="476" r="17"/><circle cx="855" cy="496" r="17"/><circle cx="809" cy="513" r="17"/></g>
  <g stroke="#727272" stroke-width="34" stroke-linecap="round" fill="none"><path d="M844 214 L873 147"/><path d="M873 197 L927 122"/><path d="M903 199 L981 131"/><path d="M922 220 L1011 172"/><path d="M932 246 L1024 221"/><path d="M933 272 L1022 270"/><path d="M932 297 L1015 313"/><path d="M925 319 L999 352"/><path d="M919 340 L984 390"/><path d="M906 358 L957 420"/><path d="M891 374 L927 446"/><path d="M875 391 L894 473"/><path d="M855 404 L855 493"/><path d="M831 415 L809 508"/></g>
  <g stroke="#909090" stroke-width="12" stroke-linecap="round" fill="none" transform="translate(-4 -5)"><path d="M847 207 L868 157"/><path d="M878 190 L919 134"/><path d="M911 192 L969 141"/><path d="M931 215 L998 179"/><path d="M941 243 L1010 225"/><path d="M942 272 L1008 270"/><path d="M940 298 L1002 311"/><path d="M933 322 L988 347"/><path d="M926 345 L974 383"/><path d="M911 365 L949 411"/><path d="M895 382 L922 436"/><path d="M877 399 L891 461"/><path d="M855 413 L855 479"/><path d="M828 425 L812 494"/></g>
  <path d="M690 390 Q760 375 830 320 L862 280 Q858 350 800 392 Q750 415 700 405 Z" fill="#e61010"/>
  <path d="M150 420 L185 330 L250 260 L330 215 L420 205 L520 240 L600 280 L670 340 L720 440 L750 530 L730 620 L680 700 L600 770 L500 805 L400 790 L310 740 L230 680 L180 600 L150 500 Z" fill="#4a4a4a" stroke="#4a4a4a" stroke-width="14" stroke-linejoin="round"/>
  <g fill="#4a4a4a"><circle cx="749" cy="508" r="20"/><circle cx="737" cy="614" r="20"/><circle cx="682" cy="707" r="20"/><circle cx="600" cy="776" r="20"/><circle cx="498" cy="811" r="20"/><circle cx="395" cy="793" r="20"/><circle cx="308" cy="745" r="20"/><circle cx="231" cy="687" r="20"/><circle cx="177" cy="606" r="20"/><circle cx="147" cy="508" r="20"/><circle cx="151" cy="401" r="20"/><circle cx="201" cy="303" r="20"/><circle cx="286" cy="233" r="20"/><circle cx="391" cy="202" r="20"/><circle cx="495" cy="225" r="20"/><circle cx="585" cy="266" r="20"/><circle cx="662" cy="326" r="20"/><circle cx="712" cy="411" r="20"/></g>
  <g stroke="#747474" stroke-width="40" stroke-linecap="round" fill="none"><path d="M640 487 L743 508"/><path d="M640 557 L732 612"/><path d="M611 620 L677 703"/><path d="M563 670 L597 771"/><path d="M500 699 L497 805"/><path d="M432 695 L396 788"/><path d="M373 670 L311 740"/><path d="M320 638 L235 684"/><path d="M279 589 L182 604"/><path d="M253 528 L152 508"/><path d="M248 459 L157 403"/><path d="M274 393 L206 307"/><path d="M324 342 L289 238"/><path d="M390 315 L392 208"/><path d="M458 323 L494 231"/><path d="M518 343 L582 271"/><path d="M572 376 L658 329"/><path d="M610 427 L706 413"/></g>
  <g stroke="#939393" stroke-width="14" stroke-linecap="round" fill="none" transform="translate(-4 -5)"><path d="M651 489 L727 505"/><path d="M650 562 L718 604"/><path d="M617 628 L667 690"/><path d="M566 680 L592 756"/><path d="M500 710 L498 789"/><path d="M428 704 L401 774"/><path d="M367 677 L320 730"/><path d="M311 643 L248 677"/><path d="M269 590 L197 601"/><path d="M243 526 L167 511"/><path d="M239 453 L170 411"/><path d="M267 384 L216 320"/><path d="M321 331 L294 254"/><path d="M390 304 L392 224"/><path d="M462 314 L488 245"/><path d="M525 336 L572 282"/><path d="M581 371 L645 336"/><path d="M620 426 L692 415"/></g>
  <path d="M255 500 Q270 420 360 382 Q440 370 520 430 Q580 500 585 580 Q570 660 500 695 Q420 710 340 660 Q270 600 255 500 Z" fill="#8a0000" stroke="#3c3c3c" stroke-width="10"/>
  <path d="M262 500 Q276 424 362 390 Q440 378 516 436 Q572 502 577 580 Q562 654 498 687 Q420 702 344 654 Q276 598 262 500 Z" fill="#ea0e0e"/>
  <path d="M290 500 Q300 430 370 405 Q330 470 340 560 Q380 650 480 680 Q400 690 345 640 Q295 580 290 500 Z" fill="#b40000"/>
  <ellipse cx="470" cy="560" rx="80" ry="95" fill="#ff2a20" opacity="0.5" transform="rotate(-30 470 560)"/>
  <circle cx="445" cy="512" r="36" fill="#a8a8a8"/>
  <circle cx="445" cy="512" r="20" fill="#e0e0e0"/>
  <g fill="#909090"><circle cx="378" cy="462" r="13"/><circle cx="480" cy="446" r="13"/><circle cx="518" cy="552" r="13"/><circle cx="414" cy="570" r="13"/></g>
</g>

<!-- ===== Схема 17 : body (view 460,670,680,890) ===== -->
<g transform="translate(460 670) scale(0.172144)" stroke-linejoin="round">
  <!-- right fender -->
  <path d="M700 560 L900 620 Q960 640 1020 700 Q1055 770 1040 830 L980 900 L900 990 L880 1000 L760 900 L700 700 Z" fill="#7c7c7c"/>
  <!-- frame left -->
  <path d="M75 630 L100 615 L190 640 L195 700 L260 760 L75 715 Z" fill="#8a8a8a"/>
  <!-- engine block -->
  <path d="M160 420 L400 480 L580 520 L680 480 L700 560 L680 620 L200 530 L170 500 Z" fill="#6a6a6a"/>
  <path d="M180 450 L560 540 M200 500 L560 575" stroke="#4a4a4a" stroke-width="10" fill="none"/>
  <path d="M560 520 L680 480 L700 600 L600 600 Z" fill="#9a9a9a"/>
  <!-- white brackets -->
  <path d="M750 760 L830 780 L835 900 L770 880 Z" fill="#e4e4ec" stroke="#aaa" stroke-width="4"/>
  <path d="M830 790 L920 735 L970 750 L960 800 L880 850 Z" fill="#ececec" stroke="#aaa" stroke-width="4"/>
  <path d="M850 880 L930 840 L965 855 L950 910 L880 940 Z" fill="#ececec" stroke="#aaa" stroke-width="4"/>
  <!-- big fender plate -->
  <path d="M155 970 L270 840 L340 800 L440 770 L560 840 L640 850 L720 870 L760 900 L880 1000 L860 1040 Q830 1110 720 1122 L640 1050 L580 1000 L380 960 L250 930 Z" fill="#9a9a9a"/>
  <path d="M155 970 L270 840 L340 800 L300 900 L250 930 Z" fill="#b8b8b8"/>
  <path d="M640 1050 L720 870 L760 900 L880 1000 L860 1040 Q830 1110 720 1122 Z" fill="#6e6e6e"/>
  <path d="M255 700 L440 730 L545 800 L610 842 L560 852 L430 795 L300 765 Z" fill="#3a3a3a"/>
  <!-- white link, orange -->
  <path d="M240 722 L282 716 L332 800 L300 812 Z" fill="#e8e8e8" stroke="#aaa" stroke-width="4"/>
  <circle cx="400" cy="790" r="42" fill="#e8a040" stroke="#b87820" stroke-width="5"/>
  <circle cx="400" cy="790" r="18" fill="#2b8f8c"/>
  <ellipse cx="150" cy="605" rx="16" ry="14" fill="#d8d030"/>
  <!-- teal pulley -->
  <ellipse cx="690" cy="785" rx="72" ry="95" fill="#2b8f8c" stroke="#1f6f6c" stroke-width="6" transform="rotate(-15 690 785)"/>
  <ellipse cx="695" cy="785" rx="50" ry="68" fill="#3aa5a0" transform="rotate(-15 695 785)"/>
  <circle cx="672" cy="790" r="22" fill="#d01818"/>
  <circle cx="770" cy="782" r="18" fill="#e04040"/>
  <!-- belt cover -->
  <path d="M185 545 L215 520 L660 610 L700 680 L690 760 Q670 830 610 842 Q560 830 540 800 Q480 740 440 730 L200 690 L180 600 Z" fill="#8e8e8e"/>
  <path d="M185 545 L215 520 L660 610 L640 640 Z" fill="#a4a4a4"/>
  <!-- blue bracket -->
  <path d="M680 660 L760 600 L820 520 L900 500 L912 600 L882 740 L832 772 L760 720 Z" fill="#2788b4"/>
  <path d="M700 665 L770 615 L830 690 L820 750 Z" fill="#2f9ccc"/>
  <path d="M820 540 L885 515 L905 600 L860 625 Z" fill="#8a8a8a"/>
  <!-- engine black -->
  <path d="M110 340 L170 260 L270 150 L300 145 L470 185 L510 210 L580 200 L720 235 L750 260 L755 340 L722 400 L716 482 L690 500 L660 470 L640 480 L580 522 L430 476 L380 476 L150 410 L135 370 Z" fill="#131313"/>
  <path d="M140 350 L400 410 L430 372 L470 320 L600 340 L650 380 L640 478" fill="none" stroke="#383838" stroke-width="6"/>
  <path d="M520 250 L500 290 L620 330 L650 380 M430 372 L410 450 M580 205 L560 260 L740 300" fill="none" stroke="#303030" stroke-width="6"/>
  <ellipse cx="330" cy="212" rx="54" ry="32" fill="#1e1ec8"/>
  <ellipse cx="330" cy="204" rx="42" ry="22" fill="#2a2af0"/>
</g>
<!-- ===== Схема 17 : handles (view 600,640,820,860) ===== -->
<g transform="translate(600 640) scale(0.172144)" stroke-linecap="round" stroke-linejoin="round" fill="none">
  <path d="M840 235 L570 555" stroke="#8e8e8e" stroke-width="28"/>
  <path d="M930 208 Q880 208 840 235 L120 650 Q70 680 55 700" stroke="#868686" stroke-width="40"/>
  <path d="M835 230 L118 643" stroke="#bcbcbc" stroke-width="13"/>
  <path d="M770 612 L560 560 L100 735 Q50 755 32 735 Q20 710 60 690" stroke="#868686" stroke-width="40"/>
  <path d="M558 552 L98 727" stroke="#bcbcbc" stroke-width="13"/>
  <path d="M925 235 L810 290 L190 645" stroke="#1a80d0" stroke-width="8"/>
  <path d="M600 545 Q520 535 420 580 Q300 630 190 650 Q100 670 20 700" stroke="#1a80d0" stroke-width="8"/>
  <path d="M930 208 L1075 232" stroke="#9a9a9a" stroke-width="34"/>
  <path d="M940 170 L942 225" stroke="#444" stroke-width="40"/>
  <path d="M1030 180 L1030 245" stroke="#3c3c3c" stroke-width="32"/>
  <path d="M1090 232 L1225 246" stroke="#78b5a4" stroke-width="54"/>
  <path d="M620 540 L700 520 L760 575 L750 595 L640 565 Z" fill="#2a50b8" stroke="#2a50b8" stroke-width="8"/>
  <path d="M640 522 Q690 492 760 497" stroke="#6a6aa0" stroke-width="22"/>
  <path d="M750 497 L865 458" stroke="#6a6aa0" stroke-width="13"/>
  <path d="M780 615 L895 644" stroke="#78b5a4" stroke-width="52"/>
  <path d="M-113 864 L370 850" stroke="#b5a866" stroke-width="11"/>
  <path d="M365 838 L400 830 L420 845 L410 865 L370 862 Z" fill="#3c3c3c" stroke="#3c3c3c" stroke-width="6"/>
  <!-- pins -->
  <path d="M318 985 L320 1125" stroke="#2a5a5e" stroke-width="27"/>
  <path d="M300 995 L338 995" stroke="#2a5a5e" stroke-width="12"/>
  <path d="M316 955 L317 985" stroke="#2a5a5e" stroke-width="10"/>
  <path d="M392 920 L395 1055" stroke="#2a5a5e" stroke-width="27"/>
  <path d="M374 928 L412 928" stroke="#2a5a5e" stroke-width="12"/>
  <path d="M390 885 L391 920" stroke="#2a5a5e" stroke-width="10"/>
  <path d="M305 1168 L335 1140 M382 1105 L412 1078" stroke="#6a8fb0" stroke-width="5"/>
</g>
<!-- ===== Схема 17 : brackets (view 620,740,840,960) ===== -->
<g transform="translate(620 740) scale(0.172144)" stroke-linejoin="round">
  <g fill="none" stroke="#555" stroke-width="5"><circle cx="320" cy="768" r="8"/><circle cx="340" cy="750" r="9"/><circle cx="358" cy="735" r="10"/></g>
  <path d="M512 568 L540 542" stroke="#4a4a4a" stroke-width="13" stroke-linecap="round"/>
  <path d="M548 1084 L572 1058" stroke="#4a4a4a" stroke-width="13" stroke-linecap="round"/>
  <!-- red bracket -->
  <path d="M175 1110 L240 1045 L310 1050 L540 1135 L545 1225 L520 1250 L440 1256 L190 1226 L178 1200 L232 1150 L178 1132 Z" fill="#ea1212"/>
  <path d="M232 1150 L400 1160 L420 1200 L520 1200 L520 1250 L440 1256 L190 1226 L178 1200 Z" fill="#d40808"/>
  <path d="M400 1150 L530 1140 L540 1200 L430 1200 Z" fill="#b80000"/>
  <g fill="#f8d0d0"><ellipse cx="262" cy="1060" rx="9" ry="6"/><ellipse cx="232" cy="1088" rx="9" ry="6"/><ellipse cx="206" cy="1115" rx="9" ry="6"/><ellipse cx="262" cy="1152" rx="9" ry="6"/><ellipse cx="232" cy="1180" rx="9" ry="6"/><ellipse cx="206" cy="1206" rx="9" ry="6"/><ellipse cx="470" cy="1225" rx="18" ry="5"/></g>
  <g fill="none" stroke="#555" stroke-width="5"><circle cx="365" cy="1275" r="9"/><circle cx="345" cy="1292" r="9"/><circle cx="328" cy="1308" r="8"/></g>
</g>
<!-- bracket 8 (view 660,750,800,890) -->
<g transform="translate(660 750) scale(0.109546)" stroke-linejoin="round">
  <path d="M100 965 L185 880 L245 870 L268 960 L200 1012 L120 992 Z" fill="#8c8c8c"/>
  <path d="M105 830 L215 705 L330 720 L352 760 L346 802 L282 812 L245 870 L230 960 L200 900 L150 852 Z" fill="#8c8c8c"/>
  <path d="M215 860 L282 812 L285 950 L240 985 Z" fill="#6c6c6c"/>
  <path d="M285 800 L430 820 L436 966 L410 982 L285 952 Z" fill="#7e7e7e"/>
  <path d="M285 800 L346 790 L432 818 Z" fill="#9a9a9a"/>
  <g fill="#e4e4e4"><ellipse cx="248" cy="736" rx="14" ry="9"/><ellipse cx="202" cy="778" rx="14" ry="9"/><ellipse cx="160" cy="824" rx="14" ry="9"/><ellipse cx="198" cy="922" rx="13" ry="8"/><ellipse cx="152" cy="966" rx="13" ry="8"/></g>
</g>

<!-- ===== blade 7 (view 700,880,860,1060) ===== -->
<g transform="translate(700 880) scale(0.140845)">
  <path d="M598 400 L658 355 L660 720 L672 722 L680 1080 L610 1135 L603 1100 Z" fill="#1c1c1c"/>
  <g fill="#777"><circle cx="632" cy="440" r="4"/><circle cx="632" cy="508" r="4"/><circle cx="632" cy="572" r="4"/><circle cx="632" cy="636" r="4"/><circle cx="632" cy="700" r="4"/></g>
</g>
<!-- ===== Схема 18 : big tiller left (view 900,680,1100,860) ===== -->
<g transform="translate(900 680) scale(0.156495)" stroke-linejoin="round">
  <path d="M900 560 L960 600 L1000 680 L1040 760 L1100 830 L1030 865 L980 780 L920 680 Z" fill="#2c2c28"/>
  <path d="M610 780 L690 800 L700 870 L720 915 L660 900 L630 850 Z" fill="#262622"/>
  <path d="M50 630 L85 545 Q200 590 280 560 L330 540 L380 590 Q300 650 200 670 Q100 660 50 630 Z" fill="#1e2c1c"/>
  <path d="M290 500 Q330 350 350 200 Q350 130 335 95 Q400 140 410 220 Q400 300 380 330 L400 400 L500 470 L420 500 L340 450 L320 520 Z" fill="#141a12"/>
  <path d="M335 95 Q352 150 345 220 Q335 300 320 380" stroke="#a01010" stroke-width="7" fill="none"/>
  <path d="M350 430 L830 580" stroke="#8c8c8c" stroke-width="62" fill="none"/>
  <path d="M360 415 L830 562" stroke="#b0b0b0" stroke-width="18" fill="none"/>
  <path d="M540 430 L680 430 L680 520 L600 600 L540 560 Z" fill="#7a7a7a"/>
  <path d="M520 540 Q580 420 670 300 Q695 250 690 210 Q730 280 700 360 Q660 430 600 520 L570 570 Z" fill="#161c14"/>
  <path d="M690 210 Q695 260 660 310 L600 400" stroke="#a01010" stroke-width="7" fill="none"/>
  <path d="M290 490 L340 440 L420 470 L520 540 L600 600 L680 620 L680 700 L620 660 L540 650 L440 620 L350 570 Z" fill="#1a2618"/>
  <path d="M780 470 L900 470 L920 560 L900 640 L800 700 L770 600 Z" fill="#6e6e6e"/>
  <path d="M760 700 L790 500 Q830 400 840 300 Q835 250 820 230 Q880 280 895 340 Q895 440 860 520 L900 560 L960 620 L900 680 L830 720 Z" fill="#141a12"/>
  <path d="M820 230 Q840 290 830 380 L800 480" stroke="#a01010" stroke-width="7" fill="none"/>
  <path d="M520 760 L545 680 Q640 710 720 700 Q820 680 900 660 L920 680 Q850 745 760 790 Q680 805 600 790 Z" fill="#1e2c1c"/>
  <path d="M820 560 L900 560 L880 640 L830 650 Z" fill="#7a7a7a"/>
  <g fill="#c4c4c4" stroke="#777" stroke-width="4"><circle cx="360" cy="400" r="20"/><circle cx="335" cy="565" r="16"/><circle cx="630" cy="452" r="20"/><circle cx="555" cy="585" r="20"/><circle cx="845" cy="530" r="20"/><circle cx="915" cy="606" r="20"/><circle cx="820" cy="690" r="20"/></g>
</g>
<!-- big tiller right (view 1050,700,1278,900) -->
<g transform="translate(1050 700) scale(0.178404)" stroke-linejoin="round">
  <path d="M40 440 Q60 390 150 370 L150 440 Q100 450 70 500 L70 530 Z" fill="#141a12"/>
  <path d="M40 440 Q45 490 70 520" stroke="#a01010" stroke-width="7" fill="none"/>
  <path d="M150 460 L640 560" stroke="#8c8c8c" stroke-width="56" fill="none"/>
  <path d="M155 445 L640 545" stroke="#b0b0b0" stroke-width="16" fill="none"/>
  <path d="M205 360 Q230 260 355 195 Q300 260 280 310 L260 400 L230 420 Z" fill="#141a12"/>
  <path d="M205 360 Q225 270 340 200" stroke="#4a7a48" stroke-width="6" fill="none"/>
  <path d="M150 350 L230 380 L240 470 L160 500 L130 420 Z" fill="#666"/>
  <path d="M100 440 L150 460 L200 560 L215 640 L180 730 L150 720 L160 660 L130 560 Z" fill="#141a12"/>
  <path d="M150 712 L182 722 L176 732 L152 726 Z" fill="#c01010"/>
  <path d="M400 400 Q410 290 505 218 Q465 290 460 350 L465 420 Z" fill="#141a12"/>
  <path d="M400 400 Q412 300 495 224" stroke="#4a7a48" stroke-width="6" fill="none"/>
  <path d="M350 430 L450 410 L470 560 L380 600 Z" fill="#666"/>
  <path d="M340 580 L400 560 L500 580 L500 640 L460 662 L400 640 Z" fill="#141a12"/>
  <path d="M280 560 L330 500 L350 560 L330 620 L310 680 L350 745 L300 700 L270 620 Z" fill="#141a12"/>
  <path d="M285 560 Q268 630 300 700 L345 742" stroke="#a01010" stroke-width="7" fill="none"/>
  <path d="M520 520 Q560 470 700 450 L700 480 Q600 490 550 560 L560 660 L530 620 Z" fill="#141a12"/>
  <path d="M520 520 Q515 570 545 610" stroke="#a01010" stroke-width="7" fill="none"/>
  <g fill="#c4c4c4" stroke="#777" stroke-width="4"><circle cx="155" cy="436" r="17"/><circle cx="220" cy="420" r="17"/><circle cx="185" cy="550" r="17"/><circle cx="445" cy="440" r="17"/><circle cx="380" cy="528" r="17"/><circle cx="440" cy="582" r="17"/></g>
  <!-- part 6 -->
  <path d="M630 745 L670 705 L690 760 L690 830 L710 860 L750 950 L720 1040 L690 1040 L680 980 L660 880 Z" fill="#181816"/>
  <path d="M684 1026 L716 1030 L714 1044 L686 1040 Z" fill="#c01010"/>
  <!-- bolt + washers -->
  <path d="M752 668 L770 664 L772 690 L830 680 L832 696 L772 702 L754 700 Z" fill="#c8c8c8" stroke="#888" stroke-width="4"/>
  <ellipse cx="852" cy="697" rx="9" ry="15" fill="none" stroke="#444" stroke-width="6"/>
  <ellipse cx="890" cy="706" rx="7" ry="12" fill="none" stroke="#777" stroke-width="5"/>
  <ellipse cx="926" cy="712" rx="13" ry="17" fill="#aaa" stroke="#555" stroke-width="5"/>
</g>
<!-- part 2 + end plate (view 1120,710,1278,850) -->
<g transform="translate(1120 710) scale(0.12363)" stroke-linejoin="round">
  <path d="M255 800 L340 552 L440 640 L446 740 L382 900 L350 906 Z" fill="#707070"/>
  <path d="M255 800 L340 552 L360 572 L275 815 Z" fill="#8a8a8a"/>
  <path d="M335 712 L430 690 L470 720 L465 770 L440 790 L345 780 Z" fill="#9a9a9a" stroke="#777" stroke-width="4"/>
  <ellipse cx="448" cy="745" rx="18" ry="30" fill="#7a7a7a"/>
  <g fill="#c8c8c8" stroke="#777" stroke-width="4"><circle cx="430" cy="655" r="20"/><circle cx="320" cy="682" r="18"/></g>
  <g fill="#444"><circle cx="352" cy="600" r="6"/><circle cx="370" cy="615" r="6"/><circle cx="285" cy="790" r="6"/><circle cx="300" cy="805" r="6"/><circle cx="350" cy="850" r="6"/><circle cx="366" cy="864" r="6"/></g>
  <path d="M905 180 L830 200 L770 240 L720 320 L690 420 L660 510 L665 560 L650 620 L600 660 L580 730 L635 775 L660 720 L700 640 L740 520 L770 420 L800 330 L850 250 L905 195 Z" fill="#161a14"/>
  <path d="M900 184 L830 204 L772 244 L724 322 L694 422 L664 512 L668 560 L654 622 L604 662 L586 728" stroke="#4a7a48" stroke-width="9" fill="none"/>
  <circle cx="690" cy="508" r="6" fill="#7a7a7a"/><circle cx="622" cy="690" r="6" fill="#7a7a7a"/>
</g>
<!-- ===== tiller 1** (view 790,790,970,970) ===== -->
<g transform="translate(790 790) scale(0.140845)" stroke-linejoin="round">
  <g fill="#a6a6b0" stroke="#8a8a94" stroke-width="4">
    <path d="M270 330 Q340 380 370 450 Q360 510 290 560 L260 545 Q310 480 320 410 Z"/>
    <path d="M150 620 L200 650 Q170 750 180 840 L285 905 L250 955 L150 880 Q120 800 135 700 Z"/>
    <path d="M510 310 L550 300 Q620 350 640 420 Q630 520 590 600 L550 590 Q595 490 600 400 Q590 350 510 310 Z"/>
    <path d="M390 610 Q420 570 480 560 L470 620 Q430 650 440 750 L390 720 Z"/>
    <path d="M460 750 L520 740 Q520 820 540 835 L660 880 L640 960 L520 920 Q470 870 460 750 Z"/>
    <path d="M730 380 L770 330 Q870 380 890 440 Q895 550 870 640 L840 630 Q855 520 840 440 Q800 400 730 380 Z"/>
    <path d="M680 780 L750 690 L780 730 Q720 800 700 870 L760 960 L740 962 L670 880 Z"/>
    <path d="M800 830 Q840 800 870 800 L1015 805 L1015 880 L880 875 Q830 870 800 830 Z"/>
  </g>
  <g fill="#ececf4" stroke="#a8a8b2" stroke-width="4">
    <path d="M120 410 L180 400 L210 440 L190 520 L130 500 Z"/>
    <path d="M200 860 L280 905 L250 950 L180 900 Z"/>
    <path d="M545 845 L655 885 L638 955 L530 915 Z"/>
    <path d="M735 375 L770 335 L850 375 L820 420 Z"/>
    <path d="M900 805 L1012 808 L1012 876 L900 872 Z"/>
    <path d="M385 660 L430 655 L440 745 L395 720 Z"/>
  </g>
  <path d="M210 575 L880 715" stroke="#8c8c8c" stroke-width="62" fill="none"/>
  <path d="M215 558 L880 698" stroke="#c4c4c4" stroke-width="20" fill="none"/>
  <path d="M155 620 L225 455 L275 520 L215 702 Z" fill="#c88840"/>
  <path d="M450 742 L480 552 L560 545 L540 700 L490 746 Z" fill="#22c022"/>
  <path d="M760 832 L760 660 L830 590 L832 780 L780 836 Z" fill="#d8d020"/>
  <path d="M830 690 L890 700 L900 720 L890 752 L830 748 Z" fill="#b8b8b8" stroke="#888" stroke-width="4"/>
  <path d="M500 620 L745 672" stroke="#b0b0b0" stroke-width="44" fill="none"/>
  <g fill="#8a8a8a" stroke="#666" stroke-width="4"><circle cx="228" cy="512" r="18"/><circle cx="212" cy="652" r="18"/><circle cx="500" cy="605" r="18"/><circle cx="572" cy="602" r="18"/><circle cx="520" cy="725" r="18"/><circle cx="860" cy="640" r="18"/><circle cx="786" cy="714" r="18"/><circle cx="836" cy="780" r="18"/></g>
</g>
<!-- ===== tiller 1* (view 950,820,1130,1000) ===== -->
<g transform="translate(950 820) scale(0.140845)" stroke-linejoin="round">
  <g fill="#1f7fa0">
    <path d="M395 380 L430 365 L425 440 L415 510 L395 522 L395 450 Z"/>
    <path d="M720 600 L740 500 Q760 450 850 410 L860 425 Q790 470 770 520 L750 610 Z"/>
    <path d="M1020 720 L1050 650 Q1080 600 1200 565 L1222 590 Q1110 625 1090 680 L1060 740 Z"/>
  </g>
  <g fill="#ececf4" stroke="#a8a8b2" stroke-width="4">
    <path d="M415 340 L500 305 L515 315 L470 360 L430 367 Z"/>
    <path d="M800 432 L850 408 L885 404 L860 424 Z"/>
    <path d="M640 930 L665 900 L715 930 L680 985 L620 985 Z"/>
    <path d="M860 1060 L905 1040 L940 1060 L900 1090 L820 1110 Z"/>
  </g>
  <g fill="#a6a6b0" stroke="#8a8a94" stroke-width="4">
    <path d="M105 825 Q200 800 260 720 L310 640 L350 620 L340 680 Q290 780 230 830 L140 860 Z"/>
    <path d="M745 600 L900 595 L940 620 Q1000 680 1030 760 L1000 790 Q960 710 880 670 L750 670 Z"/>
    <path d="M645 660 L680 660 L690 800 L720 900 L690 950 L660 930 L665 880 L650 780 Z"/>
    <path d="M950 690 L990 700 L970 840 L950 1000 L915 1060 L880 1045 L910 1000 L920 850 Z"/>
  </g>
  <path d="M320 610 L400 520 L415 560 L350 700 L355 760 L325 772 Z" fill="#d8d020"/>
  <path d="M280 610 L940 770" stroke="#8c8c8c" stroke-width="56" fill="none"/>
  <path d="M285 594 L940 754" stroke="#c4c4c4" stroke-width="18" fill="none"/>
  <path d="M400 715 L500 700 Q560 660 620 630 L640 650 Q600 720 520 770 L470 780 L465 815 L420 800 L380 740 Z" fill="#a6a6b0" stroke="#8a8a94" stroke-width="4"/>
  <path d="M600 800 L620 640 L650 610 L720 605 L700 780 L640 812 Z" fill="#22c022"/>
  <path d="M640 650 L680 640 L690 780 L655 790 Z" fill="#b0b0b8"/>
  <path d="M900 800 L935 720 L990 740 L960 880 L920 862 Z" fill="#c88840"/>
  <path d="M950 700 L985 705 L970 820 L940 815 Z" fill="#b0b0b8"/>
  <g fill="#8a8a8a" stroke="#666" stroke-width="4"><circle cx="352" cy="648" r="15"/><circle cx="400" cy="720" r="15"/><circle cx="415" cy="575" r="15"/><circle cx="662" cy="670" r="15"/><circle cx="678" cy="790" r="15"/><circle cx="720" cy="662" r="15"/><circle cx="980" cy="710" r="15"/><circle cx="955" cy="850" r="15"/><circle cx="1015" cy="770" r="15"/></g>
</g>

<!-- engine surface details for 14/15/16 -->
<g transform="translate(470 390) scale(0.172144)" stroke-linejoin="round" stroke-linecap="round">
  <path d="M440 500 L520 470 L540 380 L562 372 L640 400 L560 480 L520 640 L600 700 L470 742 L440 690 Z" fill="#3e3e3e"/>
  <path d="M250 440 L440 470 M255 560 L440 590 M330 480 L335 680 M260 640 L430 665" stroke="#5a5a5a" stroke-width="8" fill="none"/>
  <path d="M262 420 L420 440 L430 500 L270 480 Z" fill="#a8a8a8"/>
  <ellipse cx="160" cy="530" rx="28" ry="95" fill="#ff3428" opacity="0.55"/>
  <path d="M135 180 L240 138 L495 148 L552 232 L420 262 L150 222 Z" fill="#202020"/>
  <path d="M245 108 L330 66 L440 78 L488 98 L495 140 L240 132 Z" fill="#1b1b1b"/>
  <path d="M245 108 L330 66 L440 78 L488 98" stroke="#3a3a3a" stroke-width="7" fill="none"/>
  <path d="M130 176 L240 136 L498 146 M160 200 L165 290 M360 250 L364 340 M80 225 L150 222 L420 262 L552 232" stroke="#3a3a3a" stroke-width="7" fill="none"/>
  <path d="M66 288 L420 352 L560 302" stroke="#474747" stroke-width="9" fill="none"/>
  <path d="M510 152 L590 108 L720 118 L752 142 L700 172 L580 166 Z" fill="#232323"/>
  <path d="M590 170 L600 260 M700 175 L705 270 M512 155 L590 110 L720 120" stroke="#3a3a3a" stroke-width="7" fill="none"/>
</g>
<g transform="translate(930 380) scale(0.172144) translate(85 35) scale(0.8532 0.9068) translate(-40 -62)" stroke-linejoin="round" stroke-linecap="round">
  <path d="M440 500 L520 470 L540 380 L562 372 L640 400 L560 480 L520 640 L600 700 L470 742 L440 690 Z" fill="#3e3e3e"/>
  <path d="M250 440 L440 470 M255 560 L440 590 M330 480 L335 680 M260 640 L430 665" stroke="#5a5a5a" stroke-width="8" fill="none"/>
  <path d="M262 420 L420 440 L430 500 L270 480 Z" fill="#a8a8a8"/>
  <ellipse cx="160" cy="530" rx="28" ry="95" fill="#ff3428" opacity="0.55"/>
  <path d="M135 180 L240 138 L495 148 L552 232 L420 262 L150 222 Z" fill="#202020"/>
  <path d="M245 108 L330 66 L440 78 L488 98 L495 140 L240 132 Z" fill="#1b1b1b"/>
  <path d="M245 108 L330 66 L440 78 L488 98" stroke="#3a3a3a" stroke-width="7" fill="none"/>
  <path d="M130 176 L240 136 L498 146 M160 200 L165 290 M360 250 L364 340 M80 225 L150 222 L420 262 L552 232" stroke="#3a3a3a" stroke-width="7" fill="none"/>
  <path d="M66 288 L420 352 L560 302" stroke="#474747" stroke-width="9" fill="none"/>
  <path d="M510 152 L590 108 L720 118 L752 142 L700 172 L580 166 Z" fill="#232323"/>
  <path d="M590 170 L600 260 M700 175 L705 270 M512 155 L590 110 L720 120" stroke="#3a3a3a" stroke-width="7" fill="none"/>
</g>
<g transform="translate(130 590) scale(0.187793) translate(100 785) scale(0.7156 0.7373) translate(-40 -62)" stroke-linejoin="round" stroke-linecap="round">
  <path d="M440 500 L520 470 L540 380 L562 372 L640 400 L560 480 L520 640 L600 700 L470 742 L440 690 Z" fill="#3e3e3e"/>
  <path d="M250 440 L440 470 M255 560 L440 590 M330 480 L335 680 M260 640 L430 665" stroke="#5a5a5a" stroke-width="8" fill="none"/>
  <path d="M262 420 L420 440 L430 500 L270 480 Z" fill="#a8a8a8"/>
  <ellipse cx="160" cy="530" rx="28" ry="95" fill="#ff3428" opacity="0.55"/>
  <path d="M135 180 L240 138 L495 148 L552 232 L420 262 L150 222 Z" fill="#202020"/>
  <path d="M245 108 L330 66 L440 78 L488 98 L495 140 L240 132 Z" fill="#1b1b1b"/>
  <path d="M245 108 L330 66 L440 78 L488 98" stroke="#3a3a3a" stroke-width="7" fill="none"/>
  <path d="M130 176 L240 136 L498 146 M160 200 L165 290 M360 250 L364 340 M80 225 L150 222 L420 262 L552 232" stroke="#3a3a3a" stroke-width="7" fill="none"/>
  <path d="M66 288 L420 352 L560 302" stroke="#474747" stroke-width="9" fill="none"/>
  <path d="M510 152 L590 108 L720 118 L752 142 L700 172 L580 166 Z" fill="#232323"/>
  <path d="M590 170 L600 260 M700 175 L705 270 M512 155 L590 110 L720 120" stroke="#3a3a3a" stroke-width="7" fill="none"/>
</g>

<!-- caps & bolts on top -->
<g transform="translate(470 390) scale(0.172144)">
  <ellipse cx="315" cy="158" rx="62" ry="28" fill="#1e1ec8"/>
  <ellipse cx="315" cy="150" rx="50" ry="18" fill="#2a2af0"/>
</g>
<g transform="translate(470 390) scale(0.172144)">
  <ellipse cx="182" cy="490" rx="30" ry="26" fill="#e8e02c" stroke="#b0a818" stroke-width="4"/>
  <ellipse cx="415" cy="666" rx="25" ry="22" fill="#e8e02c" stroke="#b0a818" stroke-width="4"/>
</g>
<g transform="translate(930 380) scale(0.172144)">
  <ellipse cx="332" cy="122" rx="55" ry="25" fill="#1e1ec8"/>
  <ellipse cx="332" cy="115" rx="44" ry="16" fill="#2a2af0"/>
</g>
<g transform="translate(930 380) scale(0.172144)">
  <ellipse cx="210" cy="420" rx="28" ry="24" fill="#e8e02c" stroke="#b0a818" stroke-width="4"/>
  <ellipse cx="420" cy="575" rx="24" ry="21" fill="#e8e02c" stroke="#b0a818" stroke-width="4"/>
</g>
<g transform="translate(130 590) scale(0.187793)">
  <ellipse cx="303" cy="843" rx="48" ry="20" fill="#1e1ec8"/>
  <ellipse cx="303" cy="837" rx="38" ry="13" fill="#2a2af0"/>
</g>
<g transform="translate(90 760) scale(0.187793)">
  <ellipse cx="432" cy="205" rx="23" ry="20" fill="#e8e02c" stroke="#b0a818" stroke-width="4"/>
  <ellipse cx="630" cy="325" rx="20" ry="18" fill="#e8e02c" stroke="#b0a818" stroke-width="4"/>
</g>
<g transform="translate(470 390) scale(0.172144)">
  <path d="M592 668 Q590 652 608 654 L690 662 Q705 668 702 690 L695 730 Q690 745 670 742 L600 732 Q586 728 588 712 Z" fill="#f2a552" stroke="#d48a3a" stroke-width="4"/>
</g>
<g transform="translate(930 380) scale(0.172144)">
  <path d="M580 582 Q578 568 595 570 L668 576 Q682 582 680 600 L674 632 Q670 645 652 642 L590 634 Q576 630 578 616 Z" fill="#f2a552" stroke="#d48a3a" stroke-width="4"/>
</g>

</g>
<g filter="url(#b2)">
<!-- labels, arrows, captions -->
<text class="cap" x="234.2" y="517" font-size="17.8" textLength="79.8" lengthAdjust="spacingAndGlyphs">Схема 13</text>
<text class="cap" x="627.3" y="587.8" font-size="17.8" textLength="79.8" lengthAdjust="spacingAndGlyphs">Схема 14</text>
<text class="cap" x="1054.6" y="584.6" font-size="17.8" textLength="79.8" lengthAdjust="spacingAndGlyphs">Схема 15</text>
<text class="cap" x="53.2" y="1009" font-size="17.8" textLength="79.8" lengthAdjust="spacingAndGlyphs">Схема 16</text>
<text class="cap" x="531.2" y="1012.8" font-size="17.8" textLength="79.8" lengthAdjust="spacingAndGlyphs">Схема 17</text>
<text class="cap" x="1025.8" y="997.8" font-size="17.8" textLength="79.8" lengthAdjust="spacingAndGlyphs">Схема 18</text>
<text class="num" x="236.8" y="455" font-size="19">1</text>
<path class="ar" stroke-width="1.8" d="M233.6 452.7 L186.0 474.2"/>
<path class="ah" d="M173.7 479.7 L186.1 469.4 L189.6 477.3 Z"/>
<text class="num" x="724.2" y="405.9" font-size="22.3">1</text>
<text class="num" x="724.2" y="427.09999999999997" font-size="22.3">2</text>
<text class="num" x="724.2" y="448.29999999999995" font-size="22.3">3</text>
<text class="num" x="724.2" y="469.5" font-size="22.3">4</text>
<text class="num" x="718.2" y="550.4" font-size="22.3">5</text>
<path class="ar" stroke-width="1.8" d="M722.8 405.1 L674.6 430.4"/>
<path class="ah" d="M662.6 436.7 L674.3 425.7 L678.3 433.3 Z"/>
<path class="ar" stroke-width="1.8" d="M715.8 538.4 L680.5 512.7"/>
<path class="ah" d="M669.6 504.7 L684.7 510.4 L679.6 517.3 Z"/>
<text class="num" x="873.2" y="322.6" font-size="15.3">1</text>
<text class="num" x="873.2" y="337.20000000000005" font-size="15.3">2</text>
<text class="num" x="873.2" y="351.8" font-size="15.3">3</text>
<text class="num" x="873.2" y="366.40000000000003" font-size="15.3">4</text>
<text class="num" x="886.8" y="557.5" font-size="15.3">6</text>
<text class="num" x="1244.4" y="550.6" font-size="15.3">5</text>
<path class="ar" stroke-width="1.7" d="M878.5 369.3 L887.4 417.7"/>
<path class="ah" d="M889.4 428.5 L883.3 416.4 L890.8 415.0 Z"/>
<path class="ar" stroke-width="1.7" d="M888.8 542.0 L878.6 506.2"/>
<path class="ah" d="M875.6 495.6 L882.8 507.1 L875.5 509.1 Z"/>
<path class="ar" stroke-width="1.7" d="M1241.2 545.2 L1187.7 532.1"/>
<path class="ah" d="M1177.0 529.5 L1190.5 528.9 L1188.7 536.3 Z"/>
<text class="num" x="66.4" y="750.3" font-size="18.7">1</text>
<text class="num" x="325.6" y="764.8" font-size="18.7">2</text>
<text class="num" x="325.6" y="782.4" font-size="18.7">3</text>
<text class="num" x="325.2" y="801.2" font-size="18.7">4</text>
<text class="num" x="441.4" y="824" font-size="18.7">5</text>
<text class="num" x="254.4" y="947.8" font-size="18.7">6</text>
<text class="num" x="147.2" y="938.4" font-size="18.7">7</text>
<text class="num" x="147.2" y="956.8" font-size="18.7">8</text>
<path class="ar" stroke-width="1.8" d="M73.6 754.2 L68.5 806.1"/>
<path class="ah" d="M67.2 819.5 L64.4 803.7 L73.0 804.5 Z"/>
<path class="ar" stroke-width="1.8" d="M330.8 806.2 L306.3 864.8"/>
<path class="ah" d="M301.1 877.3 L303.1 861.3 L311.0 864.7 Z"/>
<path class="ar" stroke-width="1.8" d="M438.8 825.1 L400.8 852.2"/>
<path class="ah" d="M389.8 860.0 L399.9 847.5 L404.9 854.5 Z"/>
<path class="ar" stroke-width="1.8" d="M266.7 937.5 L293.9 920.5"/>
<path class="ah" d="M305.4 913.4 L294.5 925.2 L290.0 917.9 Z"/>
<path class="ar" stroke-width="1.8" d="M160.4 924.9 L173.1 907.6"/>
<path class="ah" d="M181.1 896.7 L175.4 911.7 L168.5 906.7 Z"/>
<text class="num" x="705.6" y="767.5" font-size="13.6">1</text>
<text class="num" x="705.6" y="780.1" font-size="13.6">2</text>
<text class="num" x="756.4" y="777.3" font-size="13.6">3</text>
<text class="num" x="756.4" y="789.55" font-size="13.6">4</text>
<text class="num" x="756.4" y="801.8" font-size="13.6">5</text>
<text class="num" x="756.4" y="814.05" font-size="13.6">6</text>
<text class="num" x="771.8" y="883.4" font-size="13.6">8</text>
<text class="num" x="777.6" y="915.8" font-size="13.6">3*</text>
<text class="num" x="588.6" y="980.2" font-size="13.6">8*</text>
<text class="num" x="711.8" y="998.9" font-size="13.6">7</text>
<path class="ar" stroke-width="2.1" d="M704.4 774.4 L680.8 798.2"/>
<path class="ah" d="M670.3 808.9 L678.8 793.4 L685.7 800.3 Z"/>
<path class="ar" stroke-width="2.1" d="M752.6 808.5 L728.3 823.1"/>
<path class="ah" d="M715.5 830.9 L727.5 817.9 L732.6 826.3 Z"/>
<path class="ar" stroke-width="2.1" d="M768.9 877.7 L722.9 862.0"/>
<path class="ah" d="M708.7 857.1 L726.4 858.0 L723.2 867.2 Z"/>
<path class="ar" stroke-width="2.1" d="M774.1 915.2 L738.2 920.1"/>
<path class="ah" d="M723.3 922.1 L739.5 915.0 L740.8 924.7 Z"/>
<path class="ar" stroke-width="2.1" d="M602.5 967.0 L634.5 954.8"/>
<path class="ah" d="M648.5 949.4 L634.4 960.1 L630.9 950.9 Z"/>
<path class="ar" stroke-width="2.1" d="M721.1 992.7 L768.0 978.5"/>
<path class="ah" d="M782.4 974.1 L767.6 983.7 L764.7 974.3 Z"/>
<text class="num" x="947.4" y="816.6" font-size="11.5">1**</text>
<text class="num" x="1041.4" y="835.5" font-size="11.5">1*</text>
<text class="num" x="1166.4" y="731" font-size="11.5">1</text>
<text class="num" x="1264.4" y="733.2" font-size="11.5">2</text>
<text class="num" x="1230.4" y="906.3" font-size="10.7">3</text>
<text class="num" x="1230.4" y="917.8" font-size="10.7">4</text>
<text class="num" x="1230.4" y="929.4" font-size="10.7">5</text>
<text class="num" x="1150.8" y="960.4" font-size="10.7">6</text>
<path class="ar" stroke-width="1.7" d="M949.2 819.9 L891.5 871.7"/>
<path class="ah" d="M883.7 878.7 L890.4 867.4 L895.6 873.3 Z"/>
<path class="ar" stroke-width="1.7" d="M1044.1 839.4 L1025.7 898.0"/>
<path class="ah" d="M1022.5 908.0 L1022.5 894.9 L1030.0 897.2 Z"/>
<path class="ar" stroke-width="1.7" d="M1168.6 732.5 L1144.2 778.1"/>
<path class="ah" d="M1139.2 787.4 L1141.7 774.5 L1148.5 778.2 Z"/>
<path class="ar" stroke-width="1.7" d="M1258.7 733.0 L1224.6 755.8"/>
<path class="ah" d="M1215.9 761.6 L1224.1 751.4 L1228.5 757.9 Z"/>
<path class="ar" stroke-width="1.7" d="M1233.0 893.2 L1218.4 841.8"/>
<path class="ah" d="M1215.5 831.7 L1222.7 842.7 L1215.2 844.8 Z"/>
<path class="ar" stroke-width="1.7" d="M1154.0 948.0 L1170.1 895.7"/>
<path class="ah" d="M1173.2 885.7 L1173.2 898.8 L1165.8 896.5 Z"/>

</g>

</svg>
</body></html>
